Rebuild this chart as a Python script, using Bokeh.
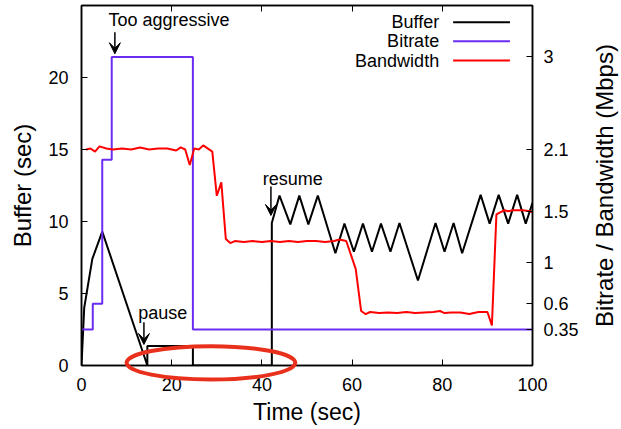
import math
from bokeh.plotting import figure
from bokeh.models import (Range1d, LinearAxis, FixedTicker, CustomJSTickFormatter,
                          Label, Arrow, VeeHead)
from bokeh.core.properties import value
from bokeh.embed import file_html
from bokeh.resources import INLINE

# ---------------- data ----------------
buffer_t = [0, 0.6, 2.4, 4.6, 14.6, 14.6, 24.7, 24.7, 42.2, 42.2, 43.9, 46.3, 48.3, 50.3,
            52.4, 56.3, 58.3, 60.4, 62.4, 64.4, 66.4, 68.5, 70.5, 74.6, 78.5, 80.5, 82.5,
            84.4, 88.5, 90.5, 92.5, 94.6, 96.6, 98.5, 100]
buffer_v = [0, 4.0, 7.4, 9.3, 0, 1.35, 1.35, 0, 0, 9.9, 11.8, 9.8, 11.8, 9.8,
            11.8, 7.8, 9.85, 7.9, 9.85, 7.9, 9.85, 7.9, 9.9, 5.9, 9.9, 7.9, 9.9,
            7.8, 11.85, 9.85, 11.85, 9.85, 11.85, 9.85, 11.3]

bitrate_t = [0, 2.5, 4.6, 6.7, 24.7, 100]
bitrate_v = [0.35, 0.6, 2.0, 3.0, 0.35, 0.35]

bw_t = [1, 2, 3, 4, 5.5, 7, 9, 11, 13, 15, 17, 19, 21, 22, 23, 24, 25, 26, 27, 29,
        30, 31, 32, 33, 34, 36, 38, 40, 42, 44, 46, 48, 50, 52, 54, 56, 57.2, 58.7,
        60.8, 62, 63, 64, 66, 68, 70, 72, 74, 76, 78, 79.5, 80.5, 82, 84, 86, 88, 90,
        91, 92, 93.8, 94.6, 95.7, 97.9, 99.4, 100]
bw_v = [2.10, 2.11, 2.08, 2.13, 2.11, 2.10, 2.11, 2.10, 2.12, 2.10, 2.11, 2.11, 2.09,
        2.12, 2.10, 1.95, 2.11, 2.10, 2.14, 2.08,
        1.65, 1.78, 1.23, 1.19, 1.21, 1.20, 1.21, 1.20, 1.21, 1.20, 1.21, 1.20, 1.21,
        1.21, 1.20, 1.21, 1.225, 1.21,
        0.94, 0.53, 0.50, 0.52, 0.51, 0.515, 0.51, 0.52, 0.51, 0.515, 0.52, 0.53, 0.51,
        0.515, 0.515, 0.50, 0.52, 0.52,
        0.39, 1.47, 1.51, 1.50, 1.51, 1.51, 1.50, 1.49]

x_ticks = [0, 20, 40, 60, 80, 100]
y_ticks = [0, 5, 10, 15, 20]
y2_ticks = [0.35, 0.6, 1, 1.5, 2.1, 3]

series_names = ["Buffer", "Bitrate", "Bandwidth"]
series_colors = ["black", "#6b2cf2", "#ff0000"]

FONT = "Liberation Sans"

# ---------------- figure ----------------
p = figure(width=621, height=429, output_backend="svg", toolbar_location=None,
           x_range=Range1d(0, 100), y_range=Range1d(0, 25),
           min_border_left=81, min_border_right=89, min_border_top=5, min_border_bottom=64)
p.extra_y_ranges = {"mbps": Range1d(0, 3.5)}
p.grid.visible = False
p.background_fill_color = "white"
p.border_fill_color = "white"
p.outline_line_color = "black"
p.outline_line_width = 1.5

def style_axis(ax, label_size="24px"):
    ax.major_tick_in = 6
    ax.major_tick_out = 0
    ax.minor_tick_line_color = None
    ax.axis_line_color = "black"
    ax.axis_line_width = 1.5
    ax.major_tick_line_color = "black"
    ax.major_tick_line_width = 1
    ax.major_label_text_font = FONT
    ax.major_label_text_font_size = "18px"
    ax.major_label_text_color = "black"
    ax.axis_label_text_font = FONT
    ax.axis_label_text_font_size = label_size
    ax.axis_label_text_font_style = "normal"
    ax.axis_label_text_color = "black"

xa = p.xaxis[0]
xa.ticker = FixedTicker(ticks=x_ticks)
xa.axis_label = "Time (sec)"
style_axis(xa, "23px")
xa.major_label_standoff = 12
xa.axis_label_standoff = 5

ya = p.yaxis[0]
ya.ticker = FixedTicker(ticks=y_ticks)
ya.axis_label = "Buffer (sec)"
style_axis(ya)
ya.major_label_standoff = 13
ya.axis_label_standoff = 9

y2 = LinearAxis(y_range_name="mbps", ticker=FixedTicker(ticks=y2_ticks),
                formatter=CustomJSTickFormatter(code="return tick.toString()"))
style_axis(y2)
y2.major_label_standoff = 11
p.add_layout(y2, "right")

top = LinearAxis(ticker=FixedTicker(ticks=x_ticks[1:-1]),
                 formatter=CustomJSTickFormatter(code="return ''"))
style_axis(top)
top.major_label_standoff = 0
p.add_layout(top, "above")

# right axis title, reading bottom-to-top like gnuplot's y2 label
y2_title = p.text(x=[116.0], y=[12.5], text=["Bitrate / Bandwidth (Mbps)"],
                  angle=math.pi / 2, text_align="center", text_baseline="middle",
                  text_font=value(FONT), text_font_size="24px", text_color="black")
y2_title.level = "overlay"

# ---------------- series ----------------
p.line(buffer_t, buffer_v, line_color=series_colors[0], line_width=2)
p.step(bitrate_t, bitrate_v, mode="after", line_color=series_colors[1], line_width=2,
       y_range_name="mbps")
p.line(bw_t, bw_v, line_color=series_colors[2], line_width=2, y_range_name="mbps")

# ---------------- annotations ----------------
ann_font = dict(text_font=FONT, text_font_size="18px", text_color="black",
                text_baseline="middle")
p.add_layout(Label(x=6.0, y=23.96, text="Too aggressive", **ann_font))
p.add_layout(Label(x=40.2, y=12.97, text="resume", **ann_font))
p.add_layout(Label(x=12.6, y=3.63, text="pause", **ann_font))

def down_arrow(x, y0, y1):
    p.add_layout(Arrow(x_start=x, y_start=y0, x_end=x, y_end=y1, line_width=1.5,
                       line_color="black",
                       end=VeeHead(size=11, fill_color="black", line_color="black")))

down_arrow(7.4, 23.15, 21.65)
down_arrow(42.0, 12.43, 10.42)
down_arrow(13.84, 3.0, 1.46)

# highlight ellipse (drawn above the frame so it is not clipped)
ell = p.ellipse(x=[28.7], y=[0.185], width=[37.4], height=[2.31], fill_color=None,
                line_color="#e8301c", line_width=4)
ell.level = "overlay"

# ---------------- legend (gnuplot style: text, then sample) ----------------
leg_y = [23.84, 22.52, 21.18]
for name, col, yy in zip(series_names, series_colors, leg_y):
    p.add_layout(Label(x=79.3, y=yy, text=name, text_align="right", **ann_font))
    p.add_layout(Arrow(x_start=82.4, y_start=yy, x_end=95.0, y_end=yy, end=None,
                       line_color=col, line_width=2))

open("out.html", "w").write(file_html(p, INLINE))
